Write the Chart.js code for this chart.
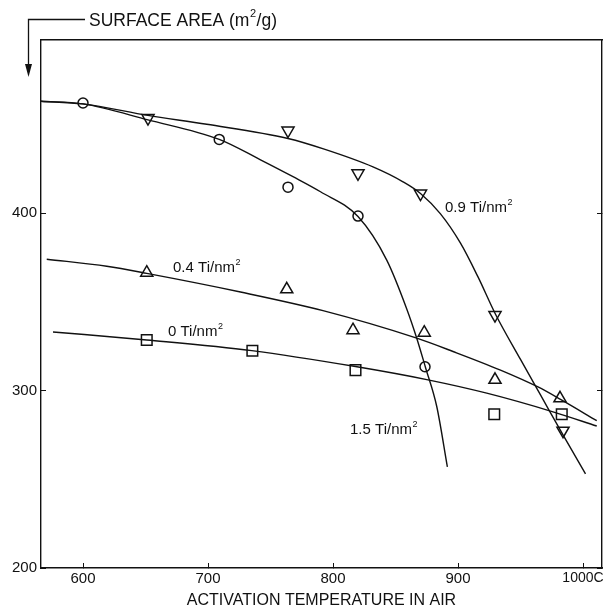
<!DOCTYPE html>
<html>
<head>
<meta charset="utf-8">
<script src="https://cdn.jsdelivr.net/npm/chart.js@4.4.1/dist/chart.umd.min.js"></script>
<style>
  body { margin: 0; background: #fff; }
  #wrap { width: 605px; height: 611px; position: relative; }
</style>
</head>
<body>
<div id="wrap"><canvas id="areaChart"></canvas></div>
<script>
// axis ticks
var xTicks = [600, 700, 800, 900, 1000];
var xTickLabels = ['600', '700', '800', '900', '1000C'];
var yTicks = [200, 300, 400];

// measured points (temperature C, surface area m2/g)
var circleTemps = [600, 709, 764, 820, 873.6];
var circleVals  = [462, 441.5, 414.6, 398.3, 313.4];

var downTriTemps = [652, 764, 820, 870, 929.6, 984];
var downTriVals  = [453.5, 446.5, 422.4, 411, 342.5, 277.4];

var upTriTemps = [651, 763, 816, 873, 929.6, 981.6];
var upTriVals  = [366.4, 357, 334, 332.6, 306, 295.6];

var squareTemps = [651, 735.5, 818, 929, 983];
var squareVals  = [328.5, 322.4, 311.5, 286.6, 286.6];

// hand drawn fitted curves
var curve15Temps = [566, 600, 652, 709, 742, 768, 790, 820, 843, 859, 867, 874, 883, 891.5];
var curve15Vals  = [463, 461.5, 452.5, 441.5, 430, 420.5, 412, 398, 373.5, 346, 329.5, 313, 291, 257];

var curve09Temps = [566, 600, 652, 699, 764, 793, 832, 856, 870, 886, 902, 916, 930, 950, 966, 984, 1002];
var curve09Vals  = [463, 461.5, 455, 450, 442, 436, 426, 417.6, 411, 399.5, 383, 364, 343, 317.5, 297.5, 275, 253];

var curve04Temps = [571, 619, 651, 726, 792, 867, 896, 934, 964, 982, 1011];
var curve04Vals  = [374, 370, 366, 355.5, 345, 329.5, 322, 311.5, 302, 295, 283];

var curve0Temps = [576, 651, 735, 818, 876, 923, 976, 1011];
var curve0Vals  = [333, 328.5, 322.5, 313.5, 306, 298.5, 288, 280];

// in-plot labels: [text before sup, sup, x (C), y (m2/g)]
var seriesLabels = [
  ['0.9 Ti/nm', '2', 889.6, 402.8],
  ['0.4 Ti/nm', '2', 672, 369],
  ['0 Ti/nm', '2', 668, 333],
  ['1.5 Ti/nm', '2', 813.6, 277.7]
];

var FONT = '"Liberation Sans", Arial, sans-serif';

function pts(xs, ys) {
  return xs.map((x, i) => ({x: x, y: ys[i]}));
}

function curve(xs, ys) {
  return {
    type: 'line',
    data: pts(xs, ys),
    borderColor: '#111',
    borderWidth: 1.4,
    pointRadius: 0,
    fill: false,
    cubicInterpolationMode: 'monotone'
  };
}

function markers(xs, ys, style, r, rot) {
  return {
    type: 'scatter',
    data: pts(xs, ys),
    showLine: false,
    pointStyle: style,
    pointRadius: r,
    pointRotation: rot || 0,
    pointBackgroundColor: '#fff',
    pointBorderColor: '#111',
    pointBorderWidth: 1.5
  };
}

function drawSup(ctx, base, sup, after, x, y, size) {
  ctx.font = size + 'px ' + FONT;
  ctx.fillText(base, x, y);
  x += ctx.measureText(base).width;
  ctx.font = Math.round(size * 0.62) + 'px ' + FONT;
  ctx.fillText(sup, x + 0.5, y - size * 0.38);
  x += ctx.measureText(sup).width + 1;
  if (after) {
    ctx.font = size + 'px ' + FONT;
    ctx.fillText(after, x, y);
  }
}

var annotate = {
  id: 'annotate',
  afterDraw(chart) {
    var ctx = chart.ctx;
    var xs = chart.scales.x, ys = chart.scales.y;
    ctx.save();
    ctx.fillStyle = '#111';
    ctx.strokeStyle = '#111';
    ctx.textBaseline = 'middle';
    ctx.textAlign = 'left';

    seriesLabels.forEach(l => {
      drawSup(ctx, l[0], l[1], '', xs.getPixelForValue(l[2]), ys.getPixelForValue(l[3]), 15);
    });

    // y axis title with bent arrow
    ctx.lineWidth = 1.3;
    ctx.beginPath();
    ctx.moveTo(85, 19.5);
    ctx.lineTo(28.5, 19.5);
    ctx.lineTo(28.5, 70);
    ctx.stroke();
    ctx.beginPath();
    ctx.moveTo(25, 64);
    ctx.lineTo(32, 64);
    ctx.lineTo(28.5, 77);
    ctx.closePath();
    ctx.fill();
    drawSup(ctx, 'SURFACE AREA (m', '2', '/g)', 89, 21, 17.5);
    ctx.restore();
  }
};

var tickColor = '#111';
var noPad = s => { s.paddingLeft = 0; s.paddingRight = 0; s.paddingTop = 0; s.paddingBottom = 0; };

new Chart(document.getElementById('areaChart'), {
  data: {
    datasets: [
      curve(curve15Temps, curve15Vals),
      curve(curve09Temps, curve09Vals),
      curve(curve04Temps, curve04Vals),
      curve(curve0Temps, curve0Vals),
      markers(circleTemps, circleVals, 'circle', 5),
      markers(downTriTemps, downTriVals, 'triangle', 7, 180),
      markers(upTriTemps, upTriVals, 'triangle', 7),
      markers(squareTemps, squareVals, 'rect', 7.5)
    ]
  },
  options: {
    responsive: true,
    maintainAspectRatio: false,
    animation: false,
    layout: { autoPadding: false, padding: { top: 40, right: 3, left: 0, bottom: 0 } },
    plugins: { legend: { display: false }, tooltip: { enabled: false } },
    scales: {
      x: {
        type: 'linear',
        position: 'bottom',
        min: 566.4,
        max: 1015.2,
        afterBuildTicks: s => { s.ticks = xTicks.map(v => ({value: v})); },
        afterFit: s => { s.height = 43; noPad(s); },
        ticks: {
          color: '#111',
          font: c => ({ family: FONT, size: c.tick && c.tick.value === 1000 ? 14 : 15 }),
          padding: 7,
          maxRotation: 0,
          callback: v => xTickLabels[xTicks.indexOf(v)]
        },
        grid: { drawOnChartArea: false, drawTicks: true, tickLength: -5, color: tickColor, lineWidth: 1 },
        border: { display: true, color: '#111', width: 1.4 },
        title: {
          display: true,
          text: 'ACTIVATION TEMPERATURE IN AIR',
          color: '#111',
          font: { family: FONT, size: 16 },
          padding: { top: 0, bottom: 1 }
        }
      },
      x2: {
        type: 'linear',
        position: 'top',
        min: 566.4,
        max: 1015.2,
        afterFit: s => { s.height = 0; noPad(s); },
        ticks: { display: false },
        grid: { drawOnChartArea: false, drawTicks: false },
        border: { display: true, color: '#111', width: 1.4 }
      },
      y: {
        type: 'linear',
        position: 'left',
        min: 200,
        max: 497.5,
        afterBuildTicks: s => { s.ticks = yTicks.map(v => ({value: v})); },
        afterFit: s => { s.width = 41; noPad(s); },
        ticks: {
          color: '#111',
          font: { family: FONT, size: 15 },
          padding: 9
        },
        grid: { drawOnChartArea: false, drawTicks: true, tickLength: -5, color: tickColor, lineWidth: 1 },
        border: { display: true, color: '#111', width: 1.4 }
      },
      y2: {
        type: 'linear',
        position: 'right',
        min: 200,
        max: 497.5,
        afterBuildTicks: s => { s.ticks = yTicks.map(v => ({value: v})); },
        afterFit: s => { s.width = 0; noPad(s); },
        ticks: { display: false },
        grid: { drawOnChartArea: false, drawTicks: true, tickLength: -5, color: tickColor, lineWidth: 1 },
        border: { display: true, color: '#111', width: 1.4 }
      }
    }
  },
  plugins: [annotate]
});
</script>
</body>
</html>
